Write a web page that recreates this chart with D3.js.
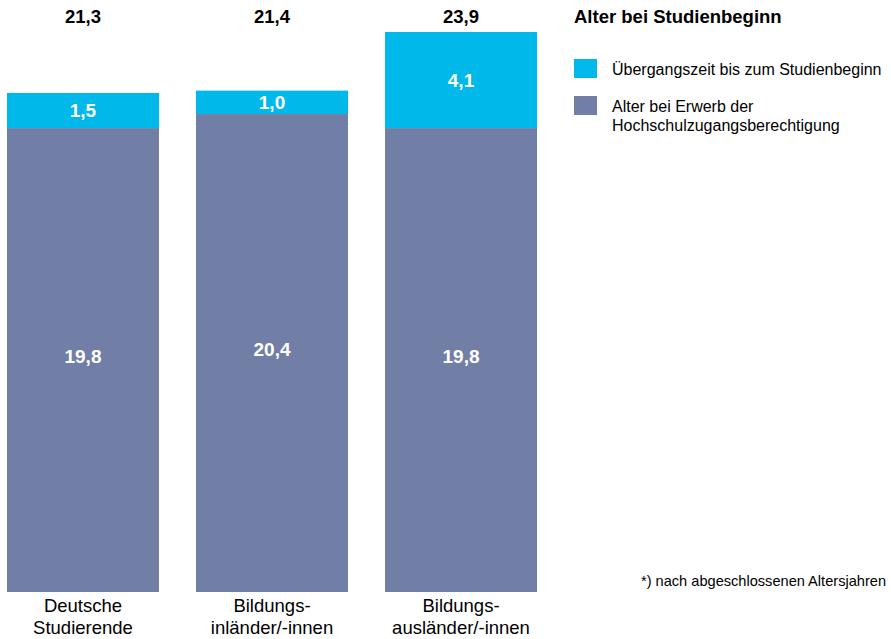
<!doctype html>
<html>
<head>
<meta charset="UTF-8">
<title>Alter bei Studienbeginn</title>
<script src="https://cdn.jsdelivr.net/npm/d3@7"></script>
<style>
body { margin: 0; background: #fff; }
text { font-family: "Liberation Sans", Arial, sans-serif; }
</style>
</head>
<body>
<script>
// data
var categories = [["Deutsche", "Studierende"], ["Bildungs-", "inländer/-innen"], ["Bildungs-", "ausländer/-innen"]];
var ageAtEntry = [19.8, 20.4, 19.8];      // Alter bei Erwerb der HZB
var transition = [1.5, 1.0, 4.1];         // Übergangszeit bis zum Studienbeginn
var totals = [21.3, 21.4, 23.9];          // Alter bei Studienbeginn
var seriesNames = ["Übergangszeit bis zum Studienbeginn", ["Alter bei Erwerb der", "Hochschulzugangsberechtigung"]];
var colors = ["#00B9EA", "#717FA7"];

var w = 891, h = 639;
var fmt = function(v) { return d3.format(".1f")(v).replace(".", ","); };

var svg = d3.select("body").append("svg")
  .attr("width", w)
  .attr("height", h);

var xScale = d3.scaleBand()
  .domain(d3.range(categories.length))
  .range([7, 537])
  .paddingInner(0.196)
  .paddingOuter(0);

var yScale = d3.scaleLinear()
  .domain([0, 24])
  .range([592, 592 - 24 * 23.43]);

// lower segment
svg.selectAll("rect.base")
  .data(ageAtEntry)
  .enter().append("rect")
  .attr("class", "base")
  .attr("x", function(d, i) { return xScale(i); })
  .attr("y", function(d) { return yScale(d); })
  .attr("width", xScale.bandwidth())
  .attr("height", function(d) { return yScale(0) - yScale(d); })
  .attr("fill", colors[1]);

// upper segment
svg.selectAll("rect.top")
  .data(transition)
  .enter().append("rect")
  .attr("class", "top")
  .attr("x", function(d, i) { return xScale(i); })
  .attr("y", function(d, i) { return yScale(ageAtEntry[i] + d); })
  .attr("width", xScale.bandwidth())
  .attr("height", function(d, i) { return yScale(ageAtEntry[i]) - yScale(ageAtEntry[i] + d); })
  .attr("fill", colors[0]);

// labels inside bars
svg.selectAll("text.lblBase")
  .data(ageAtEntry)
  .enter().append("text")
  .attr("x", function(d, i) { return xScale(i) + xScale.bandwidth() / 2; })
  .attr("y", function(d) { return yScale(d / 2) - 4; })
  .attr("dy", "0.35em")
  .attr("text-anchor", "middle")
  .attr("font-size", "19px")
  .attr("font-weight", "bold")
  .attr("fill", "#fff")
  .text(fmt);

svg.selectAll("text.lblTop")
  .data(transition)
  .enter().append("text")
  .attr("x", function(d, i) { return xScale(i) + xScale.bandwidth() / 2; })
  .attr("y", function(d, i) { return yScale(ageAtEntry[i] + d / 2); })
  .attr("dy", "0.35em")
  .attr("text-anchor", "middle")
  .attr("font-size", "19px")
  .attr("font-weight", "bold")
  .attr("fill", "#fff")
  .text(fmt);

// totals on top
svg.selectAll("text.total")
  .data(totals)
  .enter().append("text")
  .attr("x", function(d, i) { return xScale(i) + xScale.bandwidth() / 2; })
  .attr("y", 23)
  .attr("text-anchor", "middle")
  .attr("font-size", "18.5px")
  .attr("font-weight", "bold")
  .attr("fill", "#000")
  .text(fmt);

// category labels
var cat = svg.selectAll("text.cat")
  .data(categories)
  .enter().append("text")
  .attr("text-anchor", "middle")
  .attr("font-size", "18.5px")
  .attr("fill", "#000")
  .attr("x", function(d, i) { return xScale(i) + xScale.bandwidth() / 2; });
cat.selectAll("tspan")
  .data(function(d) { return d; })
  .enter().append("tspan")
  .attr("x", function() { return d3.select(this.parentNode).attr("x"); })
  .attr("y", function(d, j) { return 612 + j * 22; })
  .text(function(d) { return d; });

// legend
svg.append("text")
  .attr("x", 574)
  .attr("y", 23)
  .attr("font-size", "18.5px")
  .attr("font-weight", "bold")
  .text("Alter bei Studienbeginn");

var legY = [59, 96];
svg.selectAll("rect.leg")
  .data(colors)
  .enter().append("rect")
  .attr("x", 574)
  .attr("y", function(d, i) { return legY[i]; })
  .attr("width", 23)
  .attr("height", 19)
  .attr("fill", function(d) { return d; });

var leg = svg.selectAll("text.leg")
  .data(seriesNames)
  .enter().append("text")
  .attr("font-size", "16px")
  .attr("fill", "#000");
leg.selectAll("tspan")
  .data(function(d) { return [].concat(d); })
  .enter().append("tspan")
  .attr("x", 612)
  .attr("y", function(d, j) {
    var i = seriesNames.indexOf(d3.select(this.parentNode).datum());
    return legY[i] + 16 + j * 19;
  })
  .text(function(d) { return d; });

// footnote
svg.append("text")
  .attr("x", 886)
  .attr("y", 586)
  .attr("text-anchor", "end")
  .attr("font-size", "14.6px")
  .text("*) nach abgeschlossenen Altersjahren");
</script>
</body>
</html>
